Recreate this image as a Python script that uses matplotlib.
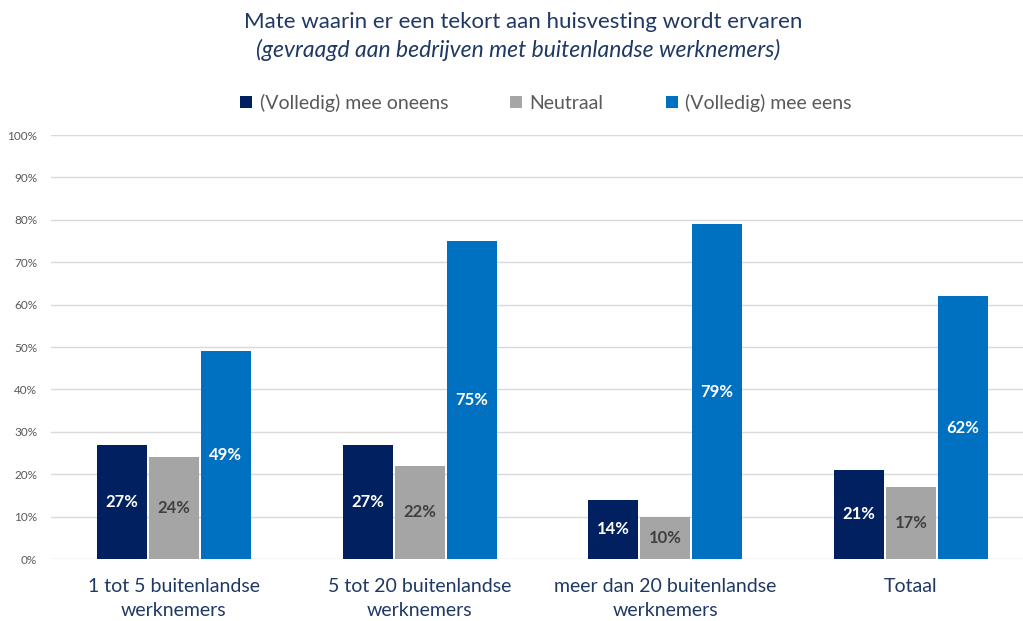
import numpy as np
import matplotlib.pyplot as plt

plt.rcParams['font.family'] = ['Lato', 'DejaVu Sans']

# data
categories = ["1 tot 5 buitenlandse\nwerknemers", "5 tot 20 buitenlandse\nwerknemers",
              "meer dan 20 buitenlandse\nwerknemers", "Totaal"]
series_names = ["(Volledig) mee oneens", "Neutraal", "(Volledig) mee eens"]
oneens = [27, 27, 14, 21]
neutraal = [24, 22, 10, 17]
eens = [49, 75, 79, 62]
yticks = [0, 10, 20, 30, 40, 50, 60, 70, 80, 90, 100]

colors = ["#002060", "#A5A5A5", "#0070C0"]
label_colors = ["white", "#404040", "white"]

fig = plt.figure(figsize=(10.23, 6.21), dpi=100)
W, H = 1023, 621
ax = fig.add_axes([51 / W, (H - 559) / H, 972 / W, 424 / H])

x = np.arange(len(categories))
bw = 0.2035
step = 0.2116
for i, (vals, name) in enumerate(zip([oneens, neutraal, eens], series_names)):
    pos = x + (i - 1) * step
    bars = ax.bar(pos, vals, bw, color=colors[i], label=name, zorder=2)
    for b, v in zip(bars, vals):
        ax.text(b.get_x() + b.get_width() / 2, v / 2, "%d%%" % v, ha="center", va="center",
                color=label_colors[i], fontsize=12, fontweight="bold", zorder=3)

ax.set_xlim(-0.5, 972 / 245.7 - 0.5)
ax.set_ylim(0, 100)
ax.set_yticks(yticks)
ax.set_yticklabels(["%d%%" % t for t in yticks], fontsize=8.5, color="#595959")
ax.set_xticks(x)
ax.set_xticklabels(categories, fontsize=14, color="#1F3864", linespacing=1.5)
ax.tick_params(axis="both", length=0)
ax.tick_params(axis="y", pad=10)
ax.tick_params(axis="x", pad=14)
ax.grid(axis="y", color="#D9D9D9", linewidth=1, zorder=0)
for s in ax.spines.values():
    s.set_visible(False)

fig.text(523 / W, 1 - 22 / H, "Mate waarin er een tekort aan huisvesting wordt ervaren",
         ha="center", va="center", fontsize=16, color="#1F3864")
fig.text(518 / W, 1 - 50 / H, "(gevraagd aan bedrijven met buitenlandse werknemers)",
         ha="center", va="center", fontsize=16.5, color="#1F3864", style="italic")

fig.legend(loc="center", bbox_to_anchor=(546 / W, 1 - 103 / H), ncol=3, frameon=False,
           fontsize=14, labelcolor="#595959", handlelength=0.6, handleheight=0.6,
           handletextpad=0.4, columnspacing=3.2)

fig.savefig("out.png", dpi=100)
